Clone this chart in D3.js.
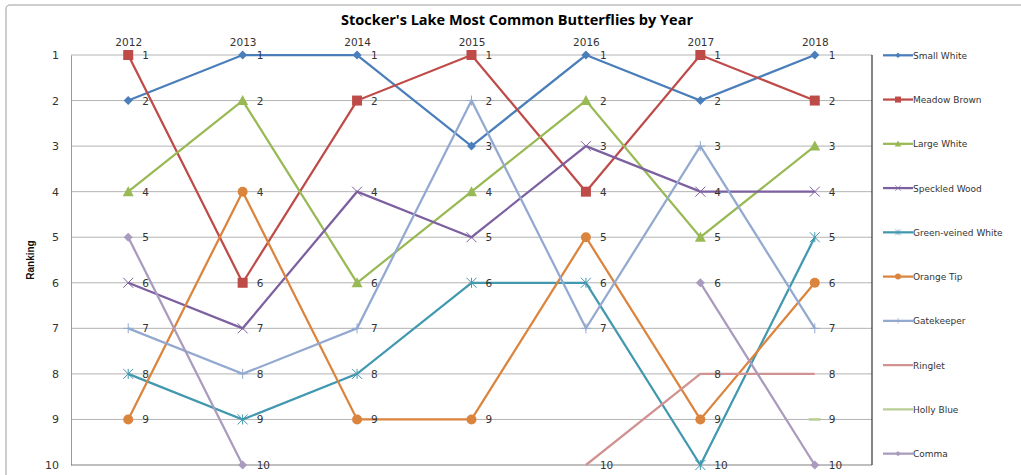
<!DOCTYPE html>
<html>
<head>
<meta charset="utf-8">
<script src="https://cdn.jsdelivr.net/npm/d3@7"></script>
<style>
  body { margin: 0; background: #fff; }
  text { font-family: "DejaVu Sans", sans-serif; fill: #333; }
</style>
</head>
<body>
<svg id="chart"></svg>
<script>
// butterfly rankings per year (null = not in top 10)
var years = ["2012", "2013", "2014", "2015", "2016", "2017", "2018"];
var ranks = [1, 2, 3, 4, 5, 6, 7, 8, 9, 10];

var smallWhite       = [2, 1, 1, 3, 1, 2, 1];
var meadowBrown      = [1, 6, 2, 1, 4, 1, 2];
var largeWhite       = [4, 2, 6, 4, 2, 5, 3];
var speckledWood     = [6, 7, 4, 5, 3, 4, 4];
var greenVeinedWhite = [8, 9, 8, 6, 6, 10, 5];
var orangeTip        = [9, 4, 9, 9, 5, 9, 6];
var gatekeeper       = [7, 8, 7, 2, 7, 3, 7];
var ringlet          = [null, null, null, null, 10, 8, 8];
var hollyBlue        = [null, null, null, null, null, null, 9];
var comma            = [5, 10, null, null, null, 6, 10];

var series = [
    {name: "Small White", values: smallWhite, color: "#4a7ebb", marker: "diamond"},
    {name: "Meadow Brown", values: meadowBrown, color: "#be4b48", marker: "square"},
    {name: "Large White", values: largeWhite, color: "#98b954", marker: "triangle"},
    {name: "Speckled Wood", values: speckledWood, color: "#7d60a0", marker: "x"},
    {name: "Green-veined White", values: greenVeinedWhite, color: "#4198af", marker: "star"},
    {name: "Orange Tip", values: orangeTip, color: "#db843d", marker: "circle"},
    {name: "Gatekeeper", values: gatekeeper, color: "#93a9cf", marker: "plus"},
    {name: "Ringlet", values: ringlet, color: "#d19392", marker: "none"},
    {name: "Holly Blue", values: hollyBlue, color: "#b9cd96", marker: "dash"},
    {name: "Comma", values: comma, color: "#a99bbd", marker: "diamond"}
];

var width = 1021,
    height = 475;

var svg = d3.select("svg#chart")
    .attr("width", width)
    .attr("height", height);

// outer chart border
svg.append("rect")
    .attr("x", 6).attr("y", 5)
    .attr("width", 1030).attr("height", 500)
    .attr("rx", 4)
    .attr("fill", "none")
    .attr("stroke", "#bdbdbd")
    .attr("stroke-width", 1.5);

var plotLeft = 71, plotRight = 872, plotTop = 55, plotBottom = 465;

var x = d3.scalePoint().domain(years).range([plotLeft, plotRight]).padding(0.5);
var y = d3.scaleLinear().domain([1, 10]).range([plotTop, plotBottom]);

svg.append("text")
    .attr("x", 517).attr("y", 25)
    .attr("text-anchor", "middle")
    .style("font-family", "'Open Sans', sans-serif")
    .style("font-weight", "bold")
    .style("font-size", "14.5px")
    .style("fill", "#000")
    .text("Stocker's Lake Most Common Butterflies by Year");

// gridlines
svg.append("g").selectAll("line")
    .data(ranks.slice(0, -1))
    .enter().append("line")
    .attr("x1", plotLeft).attr("x2", plotRight)
    .attr("y1", function(d){ return y(d) })
    .attr("y2", function(d){ return y(d) })
    .attr("stroke", "#b3b3b3")
    .attr("stroke-width", 1);

// left axis
var yAxis = svg.append("g")
    .attr("transform", "translate(" + plotLeft + ",0)")
    .call(d3.axisLeft(y).tickValues(ranks).tickSize(0).tickPadding(12).tickFormat(d3.format("d")));
yAxis.select(".domain").attr("stroke", "#999");
yAxis.selectAll("text").style("font-size", "11px").style("fill", "#333");

// top year labels
var xAxis = svg.append("g")
    .attr("transform", "translate(0," + plotTop + ")")
    .call(d3.axisTop(x).tickSize(0).tickPadding(9));
xAxis.select(".domain").remove();
xAxis.selectAll("text").style("font-size", "10.5px").style("fill", "#333");

// bottom + right borders of plot
svg.append("line")
    .attr("x1", plotLeft).attr("x2", plotRight)
    .attr("y1", plotBottom).attr("y2", plotBottom)
    .attr("stroke", "#808080").attr("stroke-width", 1.2);
svg.append("line")
    .attr("x1", plotRight).attr("x2", plotRight)
    .attr("y1", plotTop).attr("y2", plotBottom)
    .attr("stroke", "#333").attr("stroke-width", 1.2);

svg.append("text")
    .attr("transform", "translate(34," + ((plotTop + plotBottom) / 2) + ") rotate(-90)")
    .attr("text-anchor", "middle")
    .style("font-size", "10px")
    .style("font-weight", "bold")
    .style("font-family", "'Liberation Sans Narrow', 'Liberation Sans', sans-serif")
    .style("fill", "#111")
    .text("Ranking");

function drawMarker(g, type, color) {
    if (type == "diamond") {
        g.append("path").attr("d", "M0,-4.5L4.5,0L0,4.5L-4.5,0Z").attr("fill", color);
    } else if (type == "square") {
        g.append("rect").attr("x", -5).attr("y", -5).attr("width", 10).attr("height", 10).attr("fill", color);
    } else if (type == "triangle") {
        g.append("path").attr("d", "M0,-5.5L5.5,4.5L-5.5,4.5Z").attr("fill", color);
    } else if (type == "circle") {
        g.append("circle").attr("r", 5).attr("fill", color);
    } else if (type == "x") {
        g.append("path").attr("d", "M-5,-5L5,5M-5,5L5,-5").attr("stroke", color).attr("stroke-width", 1);
    } else if (type == "star") {
        g.append("path").attr("d", "M-5,-5L5,5M-5,5L5,-5M0,-5L0,5").attr("stroke", color).attr("stroke-width", 1);
    } else if (type == "plus") {
        g.append("path").attr("d", "M0,-5L0,5M-5,0L5,0").attr("stroke", color).attr("stroke-width", 1);
    } else if (type == "dash") {
        g.append("path").attr("d", "M-6,0L6,0").attr("stroke", color).attr("stroke-width", 2.5);
    }
}

var line = d3.line()
    .defined(function(d){ return d.v != null })
    .x(function(d){ return x(d.year) })
    .y(function(d){ return y(d.v) });

series.forEach(function(s) {
    var pts = s.values.map(function(v, i){ return {year: years[i], v: v} });
    svg.append("path")
        .datum(pts)
        .attr("fill", "none")
        .attr("stroke", s.color)
        .attr("stroke-width", 2.25)
        .attr("d", line);
});

series.forEach(function(s) {
    var pts = s.values.map(function(v, i){ return {year: years[i], v: v} })
        .filter(function(d){ return d.v != null });
    var g = svg.append("g").selectAll("g")
        .data(pts)
        .enter().append("g")
        .attr("transform", function(d){ return "translate(" + x(d.year) + "," + y(d.v) + ")" });
    g.each(function(){ drawMarker(d3.select(this), s.marker, s.color) });
    g.append("text")
        .attr("x", 14).attr("y", 4)
        .style("font-size", "10.5px")
        .text(function(d){ return d.v });
});

// legend
var legend = svg.append("g").selectAll("g")
    .data(series)
    .enter().append("g")
    .attr("transform", function(d, i){ return "translate(883," + (55.3 + i * 44.26) + ")" });

legend.append("line")
    .attr("x1", 0).attr("x2", 30)
    .attr("stroke", function(d){ return d.color })
    .attr("stroke-width", 2.25);
legend.each(function(d){
    var m = d3.select(this).append("g").attr("transform", "translate(15,0) scale(0.6)");
    if (d.marker != "dash") drawMarker(m, d.marker, d.color);
});
legend.append("text")
    .attr("x", 30).attr("y", 3.5)
    .style("font-size", "9px")
    .text(function(d){ return d.name });
</script>
</body>
</html>
